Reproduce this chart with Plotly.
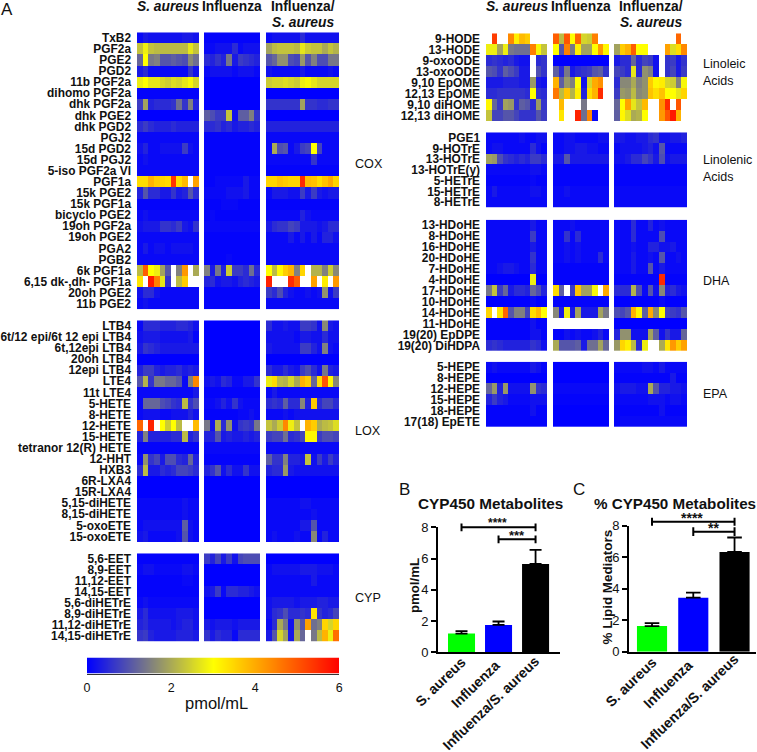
import plotly.graph_objects as go

W, H = 757, 752
N = None  # white cell, off the top of the scale

COX_LABELS = ["TxB2", "PGF2a", "PGE2", "PGD2", "11b PGF2a", "dihomo PGF2a", "dhk PGF2a", "dhk PGE2", "dhk PGD2",
              "PGJ2", "15d PGD2", "15d PGJ2", "5-iso PGF2a VI", "PGF1a", "15k PGE2", "15k PGF1a", "bicyclo PGE2",
              "19oh PGF2a", "19oh PGE2", "PGA2", "PGB2", "6k PGF1a", "6,15 dk-,dh- PGF1a", "20oh PGE2", "11b PGE2"]
LOX_LABELS = ["LTB4", "6t/12 epi/6t 12 epi LTB4", "6t,12epi LTB4", "20oh LTB4", "12epi LTB4", "LTE4", "11t LTE4",
              "5-HETE", "8-HETE", "12-HETE", "15-HETE", "tetranor 12(R) HETE", "12-HHT", "HXB3", "6R-LXA4",
              "15R-LXA4", "5,15-diHETE", "8,15-diHETE", "5-oxoETE", "15-oxoETE"]
CYP_LABELS = ["5,6-EET", "8,9-EET", "11,12-EET", "14,15-EET", "5,6-diHETrE", "8,9-diHETrE", "11,12-diHETrE",
              "14,15-diHETrE"]
LA_LABELS = ["9-HODE", "13-HODE", "9-oxoODE", "13-oxoODE", "9,10 EpOME", "12,13 EpOME", "9,10 diHOME", "12,13 diHOME"]
ALA_LABELS = ["PGE1", "9-HOTrE", "13-HOTrE", "13-HOTrE(y)", "5-HETrE", "15-HETrE", "8-HETrE"]
DHA_LABELS = ["13-HDoHE", "8-HDoHE", "16-HDoHE", "20-HDoHE", "7-HDoHE", "4-HDoHE", "17-HDoHE", "10-HDoHE", "14-HDoHE",
              "11-HDoHE", "19(20) EpDPE", "19(20) DiHDPA"]
EPA_LABELS = ["5-HEPE", "8-HEPE", "12-HEPE", "15-HEPE", "18-HEPE", "17(18) EpETE"]

COX_SA = [
    [.1, .3, .2, .2, .2, .2, .2, .2, .3, .3, .2],
    [2.3, 2.8, 2.3, 2.2, 2.2, 2.2, 2.2, 2.2, 2.2, 2.7, 2.3],
    [1.2, 3.0, 1.4, 1.5, 1.0, 1.0, 1.1, 1.0, .9, 1.6, 1.3],
    [.3, .5, .1, .1, .1, .1, .1, .1, .1, .6, .2],
    [2.8, 3.0, 2.7, 2.7, 2.5, 2.4, 2.6, 2.5, 2.7, 2.9, 2.5],
    [.05, .05, .05, .05, .05, .05, .05, .05, .05, .05, .05],
    [.7, 1.9, .4, .5, .5, .5, .6, 1.3, .6, 1.5, .4],
    [0, 0, 0, 0, 0, 0, 0, 0, 0, 0, 0],
    [.5, .7, .5, .4, .4, .4, .5, .4, .4, .4, .4],
    [.1, .1, .1, .1, .1, .1, .1, .1, .1, .1, .1],
    [.2, .4, .1, .1, .2, .2, .2, .2, .7, .2, .1],
    [.1, .2, .1, .1, .1, .1, .1, .1, .1, .1, .1],
    [.1, .1, .1, .1, .1, .1, .1, .1, .1, .1, .1],
    [3.4, 3.4, 3.9, 3.6, 3.5, 3.4, 5.4, 3.4, 3.8, N, 4.1],
    [.4, 1.0, .5, .5, .3, .3, .6, .3, .4, 1.0, .5],
    [.05, .05, .05, .05, .05, .05, .05, .05, .05, .05, .05],
    [.1, .2, .1, .1, .1, .1, .1, .1, .1, .1, .1],
    [.2, .3, .3, .3, .6, .6, .5, .7, .3, .2, .6],
    [.1, .1, .1, .1, .1, .1, .1, .1, .1, .1, .1],
    [.1, .3, .1, .2, .2, .1, .2, .2, .2, .2, .1],
    [.1, .1, .1, .1, .1, .1, .1, .1, .1, .1, .1],
    [2.2, 4.9, 3.0, 2.8, 1.9, 1.0, N, 1.5, 4.2, N, 2.0],
    [3.3, N, 5.7, 4.5, 2.7, .6, N, 2.2, 3.6, N, N],
    [.2, .5, .5, .2, .1, .1, .1, .1, .1, .1, .1],
    [.1, .2, .1, .1, .1, .1, .1, .1, .1, .1, .1],
]
COX_FLU = [
    [.05, .05, .05, .05, .05, .05, .05, .05, .05, .05],
    [.1, .1, .2, .2, .2, .5, .1, .2, .2, .2],
    [.5, .4, .6, .4, 1.4, .3, .7, .6, .5, .4],
    [.1, .2, .2, .2, .2, .1, .2, .2, .2, .1],
    [0, 0, 0, 0, 0, 0, 0, 0, 0, 0],
    [0, 0, 0, 0, 0, 0, 0, 0, 0, 0],
    [0, 0, 0, 0, 0, 0, 0, 0, 0, 0],
    [1.1, .9, .7, .7, 2.3, .2, 1.1, 1.1, 1.5, .6],
    [.5, .5, .6, .4, .5, .3, .4, .4, .5, .4],
    [.05, .05, .05, .05, .05, .05, .05, .05, .05, .05],
    [.05, .05, .05, .05, .05, .05, .05, .05, .05, .05],
    [.05, .05, .05, .05, .05, .05, .05, .05, .05, .05],
    [.05, .05, .05, .05, .05, .05, .05, .05, .05, .05],
    [.05, .05, .1, .1, .1, .1, .1, .3, .1, .1],
    [.1, .1, .1, .1, .2, .2, .2, .3, .1, .1],
    [.05, .05, .05, .1, .1, .1, .05, .05, .05, .05],
    [.05, .1, .05, .05, .05, .05, .05, .05, .05, .05],
    [.1, .1, .1, .1, .1, .1, .1, .1, .1, .1],
    [.05, .05, .05, .05, .05, .05, .05, .05, .05, .05],
    [.05, .05, .05, .05, .05, .05, .05, .05, .05, .05],
    [.05, .05, .05, .05, .1, .05, .05, .05, .05, .05],
    [1.5, .3, 1.4, .4, 2.4, .7, .7, .5, 1.3, .5],
    [.4, .5, .2, .3, .3, .2, .4, .5, .4, .3],
    [.05, .05, .05, .05, .05, .05, .05, .05, .05, .05],
    [.05, .05, .05, .05, .05, .05, .05, .05, .05, .05],
]
COX_CO = [
    [.1, .2, .2, .2, .2, .2, .5, .2, .2, .2, .2, .2, .2],
    [1.9, 2.2, 2.3, 2.3, 2.3, 2.2, 2.7, 2.4, 2.3, 2.3, 2.0, 2.3, 2.1],
    [1.0, 1.2, 1.7, 1.7, .9, .8, 1.8, 1.0, 1.5, .9, .9, 1.4, 1.4],
    [.2, .1, .1, .1, .1, .1, .3, .1, .1, .1, .1, .2, .1],
    [2.4, 2.5, 2.5, 2.6, 2.5, 2.4, 2.8, 2.9, 2.7, 2.5, 2.5, 2.5, 2.5],
    [0, 0, 0, 0, 0, 0, 0, 0, 0, 0, 0, 0, 0],
    [.6, .6, .6, .6, .6, .6, 1.9, .6, .6, .5, .5, .6, .6],
    [0, 0, 0, 0, 0, 0, 0, 0, 0, 0, 0, 0, 0],
    [.4, .4, .4, .4, .4, .4, .4, .4, .4, .4, .4, .4, .4],
    [.1, .1, .1, .1, .1, .1, .1, .1, .1, .1, .1, .1, .1],
    [.1, 2.0, .9, 1.0, .1, .3, .7, .8, 3.0, .8, .1, .1, .1],
    [.1, .1, .1, .1, .1, .1, .1, .1, .6, .1, .1, .1, .1],
    [.05, .05, .05, .05, .05, .05, .05, .05, .05, .05, .05, .05, .05],
    [3.5, 3.5, 3.7, 3.6, 3.5, 3.5, 5.5, 3.8, 3.7, 3.4, 3.7, 4.0, 3.5],
    [.1, .3, .3, .3, .2, .2, .7, .3, .7, .3, .2, .3, .3],
    [.05, .05, .05, .05, .05, .05, .05, .05, .05, .05, .05, .05, .05],
    [.1, .1, .1, .1, .1, .1, .4, .2, .1, .1, .1, .1, .1],
    [.3, .5, .6, .6, .8, .7, .3, .3, .3, .2, .3, .5, .5],
    [.1, .1, .1, .1, .3, .1, .3, .1, .3, .1, .4, .4, .2],
    [.1, .1, .1, .1, .1, .1, .1, .1, .1, .1, .1, .1, .1],
    [.1, .1, .1, .1, .1, .1, .1, .1, .1, .1, .1, .1, .1],
    [3.0, 2.2, 3.1, 3.6, 3.9, 1.5, 3.5, N, 2.1, 2.1, 1.5, 2.4, 1.6],
    [5.6, N, N, N, 5.5, 4.9, N, N, 4.1, N, 3.2, N, 4.2],
    [.7, .5, .9, .4, .2, .1, .1, .2, .1, .2, 1.7, .2, .7],
    [.1, .1, .1, .1, .1, .1, .1, .1, .1, .1, .1, .1, .1],
]
LOX_SA = [
    [.1, .5, .5, .5, .4, .4, .4, .5, .5, .4, .2],
    [.2, .3, .3, .3, .2, .2, .2, .2, .2, .3, .05],
    [.3, .6, .5, .4, .3, .3, .3, .3, .3, .3, .3],
    [0, 0, 0, 0, 0, 0, 0, 0, 0, 0, 0],
    [.4, .7, .7, .4, .3, .4, .4, .5, .3, .4, .3],
    [1.0, 2.1, .6, 1.4, 1.4, 1.2, 1.2, 1.0, .1, 1.5, 4.4],
    [.1, .1, .1, .1, .1, .1, .1, .1, .1, .1, .3],
    [.1, 1.2, 1.2, 1.2, .9, .8, .6, .5, 2.2, .6, .9],
    [.1, .2, .2, .2, .1, .1, .2, .2, .2, .4, .2],
    [4.8, N, 5.6, N, 3.0, 2.4, 3.0, 2.2, N, N, 3.8],
    [.4, 1.5, .4, .4, .4, .4, .5, .5, 2.2, .4, .6],
    [.05, .05, .05, .05, .05, .05, .05, .05, .05, .05, .05],
    [.1, 1.7, .6, .8, .3, .9, .9, .5, .4, 1.2, .4],
    [.5, 2.2, .3, .3, .5, .4, .5, .8, .8, .7, .5],
    [0, 0, 0, 0, 0, 0, 0, 0, 0, 0, 0],
    [0, 0, 0, 0, 0, 0, 0, 0, 0, 0, 0],
    [.1, .1, .1, .1, .1, .1, .1, .1, .2, .1, .1],
    [.1, .1, .1, .1, .1, .1, .1, .1, .2, .1, .1],
    [.1, .2, .2, .2, .2, .2, .2, .2, 1.1, .2, .1],
    [.2, .3, .1, .1, .1, .1, .1, .2, 1.0, .2, .1],
]
LOX_FLU = [
    [0, 0, 0, 0, 0, 0, 0, 0, 0, 0],
    [0, 0, 0, 0, 0, 0, 0, 0, 0, 0],
    [0, 0, 0, 0, 0, 0, 0, 0, 0, 0],
    [0, 0, 0, 0, 0, 0, 0, 0, 0, 0],
    [0, 0, 0, 0, 0, 0, 0, 0, 0, 0],
    [.2, .3, .2, .5, .4, .1, .1, .3, .3, .6],
    [.05, .05, .05, .05, .05, .05, .05, .05, .05, .05],
    [.1, .1, .2, .4, .2, .6, .2, .1, .1, .1],
    [.05, .05, .05, .05, .05, .05, .1, .1, .2, .1],
    [1.4, .2, 2.0, .5, 1.7, .2, .6, .7, .6, 1.4],
    [.4, .4, 1.0, .3, .4, .3, .3, .4, .3, .4],
    [.1, .1, .1, .1, .1, .1, .1, .1, .1, .1],
    [.05, .05, .05, .05, .05, .05, .05, .05, .05, .05],
    [.4, .6, 1.0, .2, .5, .2, .2, .6, .2, .2],
    [0, 0, 0, 0, 0, 0, 0, 0, 0, 0],
    [0, 0, 0, 0, 0, 0, 0, 0, 0, 0],
    [0, 0, 0, 0, 0, 0, 0, 0, 0, 0],
    [0, 0, 0, 0, 0, 0, 0, 0, 0, 0],
    [0, 0, 0, 0, 0, 0, 0, 0, 0, 0],
    [0, 0, 0, 0, 0, 0, 0, 0, 0, 0],
]
LOX_CO = [
    [.5, .2, .2, .3, .2, .2, .7, .7, .6, .2, 1.6, .3, .2],
    [.2, .2, .2, .2, .2, .1, .3, .3, .2, .2, .5, .2, .2],
    [.3, .2, .2, .2, .2, .2, .7, .7, .4, .2, 1.5, .2, .1],
    [0, 0, 0, 0, 0, 0, 0, 0, 0, 0, 0, 0, 0],
    [.5, .3, .3, .5, .3, .2, .7, .9, .5, .2, 1.4, .4, .3],
    [2.8, 3.4, 2.2, 2.1, 2.5, 2.0, 3.9, 3.6, 1.2, 3.4, 5.0, 3.1, 1.6],
    [.1, .3, .1, .1, .1, .1, .1, .1, .1, .1, .1, .1, .1],
    [.5, .6, .5, 1.1, .5, .5, 1.6, .4, 3.6, .5, .8, .8, .5],
    [.1, .1, .1, .2, .1, .2, .2, .2, .2, .2, .2, .2, .2],
    [2.3, 2.0, 2.4, 4.4, 2.8, 2.3, N, 3.9, 3.6, 2.0, 2.2, 2.3, 2.6],
    [.7, .8, .8, 1.3, .5, .6, .8, 3.1, 3.1, .7, .9, .9, .8],
    [.1, .1, .1, .1, .1, .1, .1, .1, .1, .1, .1, .1, .1],
    [1.1, .6, .6, 1.5, .4, .4, .3, 2.3, .2, .7, .3, .7, .4],
    [.4, .5, .5, 1.8, .3, .2, .2, .2, .2, .2, .2, .2, .2],
    [0, 0, 0, 0, 0, 0, 0, 0, 0, 0, 0, 0, 0],
    [0, 0, 0, 0, 0, 0, 0, 0, 0, 0, 0, 0, 0],
    [.1, .1, .1, .1, .1, .1, .2, .2, .1, .1, .1, .1, .1],
    [.1, .1, .1, .1, .1, .1, .1, .1, .2, .1, .1, .1, .1],
    [.1, .1, .1, .1, .1, .1, .3, .3, 1.0, .1, .1, .1, .1],
    [.1, .2, .1, .1, .1, .2, .1, .1, 1.6, .1, .4, .1, .1],
]
CYP_SA = [
    [.05, .05, .05, .05, .05, .05, .05, .05, .05, .05, .05],
    [.1, .2, .2, .1, .1, .1, .1, .1, .2, .2, .1],
    [.05, .05, .05, .05, .05, .05, .05, .05, .1, .1, .05],
    [.05, .05, .05, .05, .05, .05, .05, .05, .05, .05, .05],
    [.1, .2, .1, .1, .1, .1, .1, .1, .1, .1, .1],
    [.3, .5, .2, .2, .2, .2, .2, .3, .3, .3, .2],
    [.4, .5, .3, .3, .3, .3, .2, .3, .4, .4, .2],
    [.6, .7, .4, .3, .3, .3, .3, .4, .4, .4, .3],
]
CYP_FLU = [
    [.7, .4, .8, .3, .7, .2, .8, .9, .9, .9],
    [0, 0, 0, 0, 0, 0, 0, 0, 0, 0],
    [0, 0, 0, 0, 0, 0, 0, 0, 0, 0],
    [.2, .3, .7, .1, .5, .5, .4, .4, .3, .2],
    [0, 0, 0, 0, 0, 0, 0, 0, 0, 0],
    [0, 0, 0, 0, 0, 0, 0, 0, 0, 0],
    [.3, .2, .3, .3, .3, .2, .3, .3, .3, .3],
    [.6, .3, .5, .4, .4, .1, .5, .5, .5, .5],
]
CYP_CO = [
    [0, 0, 0, 0, 0, 0, 0, 0, 0, 0, 0, 0, 0],
    [.1, .2, .2, .2, .2, .2, .3, .3, .3, .2, .2, .2, .1],
    [.1, .1, .1, .1, .1, .1, .1, .1, .3, .1, .1, .1, .1],
    [.1, .1, .1, .1, .1, .1, .1, .1, .1, .1, .1, .1, .1],
    [.2, .3, .3, .3, .3, .2, .3, .3, .3, .4, .4, .3, .3],
    [.2, .5, .6, .9, .5, .5, .6, .5, 3.3, .6, .4, .5, .8],
    [.1, .5, 2.0, 1.4, .2, 1.7, 1.0, 4.1, 1.3, 1.5, 3.5, 2.5, 3.5],
    [.3, 1.0, 2.5, 1.9, .3, 2.0, 1.2, N, 1.4, 2.2, 3.9, 2.8, 4.7],
]
LA_SA = [
    [N, 5.3, N, N, 4.4, 3.2, 3.8, 3.6, N, N, N],
    [2.8, 2.8, 1.9, 2.8, 1.4, 1.3, 1.3, 1.3, 4.5, 2.9, 2.3],
    [.5, .6, .5, .4, .5, .3, .2, .2, N, .5, .6],
    [1.0, .9, .6, 1.1, .9, .7, .3, .3, N, .9, .6],
    [.3, .3, .3, .4, .4, .4, .3, .3, 1.8, .3, .2],
    [.5, .5, .6, .6, .6, .6, .6, .5, 3.0, .6, .5],
    [3.1, 1.2, .7, 1.9, 1.8, .6, 1.1, 1.0, .5, 1.8, .6],
    [2.3, .8, .8, 1.0, 1.0, .8, .6, .6, .6, 1.0, .7],
]
LA_FLU = [
    [4.9, 2.2, 5.0, 3.0, 4.8, 2.5, 2.4, 4.5, N, N],
    [3.0, 1.0, 4.5, 1.4, 3.2, 1.9, 1.9, 3.0, 4.2, 3.1],
    [0, 0, 0, 0, 0, 0, 0, 0, 0, 0],
    [1.1, .5, 1.4, .3, .5, .6, .7, 1.0, 1.1, .6],
    [3.9, 1.1, 1.8, 1.5, 3.0, .2, 2.5, 4.0, 4.3, N],
    [4.6, 2.2, 3.7, 2.1, 3.2, .4, 3.4, 3.9, 5.5, N],
    [N, 3.8, N, N, N, 1.4, N, N, N, N],
    [N, 3.3, N, N, 5.6, 1.3, 4.4, .1, N, N],
]
LA_CO = [
    [N, N, N, N, N, N, N, N, N, N, N, 4.8, N],
    [1.9, 3.6, 3.9, 4.9, 3.0, 3.0, N, N, N, 4.1, 2.6, 3.4, 4.4],
    [.3, .5, .5, 1.2, .5, .8, .7, .2, N, .6, .7, .3, .6],
    [.8, .7, .5, 2.7, .5, 1.7, 1.5, .2, N, .6, .8, .3, .7],
    [.5, 1.6, 1.6, 2.0, 1.5, 1.7, 3.6, 3.1, 3.2, 2.5, 2.4, 1.5, 2.9],
    [.7, 1.8, 1.7, 2.2, 1.6, 1.7, 3.7, 3.4, 3.7, 3.0, 3.0, 2.7, 3.5],
    [1.2, 3.0, 4.1, 2.7, 2.3, 3.8, N, N, 4.3, 5.5, N, 5.0, N],
    [1.1, 3.1, 2.6, 2.0, 2.1, 3.0, N, N, 4.2, 5.0, 5.7, 3.9, N],
]
ALA_SA = [
    [.1, .1, .1, .1, .1, .1, .2, .1, .1, .2, .2],
    [.1, .2, .2, .1, .1, .1, .1, .1, .5, .2, .05],
    [1.9, 1.8, .9, .6, .5, .4, .5, .4, .7, .7, .5],
    [.1, .1, .1, .1, .1, .1, .1, .1, .2, .2, .1],
    [.05, .05, .05, .05, .05, .05, .05, .05, .1, .05, .05],
    [.1, .3, .1, .1, .1, .1, .1, .1, .2, .2, .1],
    [.1, .1, .1, .1, .1, .1, .1, .1, .1, .1, .1],
]
ALA_FLU = [
    [.1, .1, .2, .2, .1, .1, .1, .1, .2, .2],
    [.1, .1, .2, .2, .3, .3, .2, .2, .1, .1],
    [.3, .3, 1.0, .3, .3, .3, .3, .3, .3, .3],
    [.05, .05, .05, .05, .05, .05, .05, .05, .05, .05],
    [.05, .05, .05, .05, .05, .05, .05, .05, .05, .05],
    [.1, .1, .2, .1, .1, .1, .1, .1, .1, .1],
    [.1, .1, .1, .1, .1, .1, .1, .1, .1, .1],
]
ALA_CO = [
    [.3, .3, .2, .2, .3, .3, .5, .6, .2, .2, .3, .3, .4],
    [.1, .2, .2, .2, .2, .3, .4, .2, 1.0, .1, .1, .1, .1],
    [.2, .2, .3, .5, .5, .8, .6, .3, .9, .2, .3, .3, .3],
    [.05, .05, .05, .05, .05, .05, .05, .05, .05, .05, .05, .05, .05],
    [.05, .05, .05, .05, .05, .05, .05, .05, .05, .05, .05, .05, .05],
    [.1, .1, .1, .1, .1, .1, .1, .1, .1, .1, .1, .1, .1],
    [.1, .1, .1, .1, .1, .1, .1, .1, .1, .1, .1, .1, .1],
]
DHA_SA = [
    [.1, .1, .1, .1, .1, .1, .1, .1, .3, .1, .1],
    [.1, .1, .1, .1, .1, .1, .1, .1, .7, .1, .1],
    [.1, .1, .1, .1, .1, .1, .1, .1, .3, .1, .1],
    [.1, .1, .1, .1, .1, .1, .1, .1, .6, .1, .1],
    [.1, .1, .2, .3, .3, .2, .1, .1, .5, .1, .1],
    [0, 0, 0, 0, 0, 0, 0, 0, 2.8, 0, 0],
    [1.4, 2.3, .7, 1.2, .3, .5, .5, .4, 1.2, .9, .4],
    [0, 0, 0, 0, 0, 0, 0, 0, .1, 0, 0],
    [3.5, N, 3.3, 4.8, 1.0, 1.5, 1.5, .8, 3.4, 3.8, 3.0],
    [.05, .05, .05, .05, .05, .05, .05, .05, .2, .05, .05],
    [.05, .05, .05, .05, .05, .05, .05, .05, .2, .2, .05],
    [.5, .6, .5, .4, .4, .4, .4, .4, .6, .5, .2],
]
DHA_FLU = [
    [.1, .1, .1, .2, .1, .1, .1, .1, .1, .1],
    [.1, .1, .6, .1, .5, .1, .1, .1, .1, .1],
    [.1, .1, .2, .1, .2, .1, .1, .1, .1, .1],
    [.1, .1, .2, .1, .2, .1, .1, .1, .5, .1],
    [.05, .05, .05, .05, .05, .05, .05, .05, .05, .05],
    [.05, .05, .05, .05, .05, .05, .05, .05, .05, .05],
    [3.4, 1.1, N, .7, 3.7, 1.9, 1.9, 2.9, N, 4.0],
    [.05, .05, .05, .05, .05, .05, .05, .05, .05, .05],
    [1.6, .3, 2.8, .3, 1.9, .3, .3, .3, 1.9, 1.4],
    [N, N, N, N, N, N, N, N, N, N],
    [.05, .05, .2, .1, .2, .1, .1, .2, .4, .1],
    [2.0, 1.0, 1.0, 1.0, 1.1, .3, 1.3, 1.3, 1.9, 1.2],
]
DHA_CO = [
    [.1, .1, .1, .5, .1, .1, .4, .1, .2, .1, .1, .1, .1],
    [.1, .1, .1, .5, .1, .1, .1, .1, .9, .1, .1, .1, .1],
    [.1, .1, .1, .2, .1, .1, .4, .4, .2, .2, .3, .1, .1],
    [.1, .1, .1, .3, .1, .1, .2, .1, 1.0, .1, .1, .2, .1],
    [.1, .1, .1, .3, .1, .1, 1.0, .1, .3, .1, .1, .1, .1],
    [.05, .05, .05, .05, .05, .05, .05, .05, 5.5, .05, .05, .05, .05],
    [.5, .5, .5, 2.1, .9, .1, 1.0, .2, 1.6, .4, .5, .3, .2],
    [0, 0, 0, 0, 0, 0, 0, 0, .1, 0, 0, 0, 0],
    [.9, .8, 1.0, 3.9, 3.1, 1.1, 4.0, 1.6, 3.0, .8, .7, .6, 1.0],
    [0, 0, 0, 0, 0, 0, 0, 0, 0, 0, 0, 0, 0],
    [.4, 1.7, 1.7, .2, .2, .2, 1.9, 1.1, .2, .6, .3, .3, 1.2],
    [1.8, 3.5, 3.2, 2.2, .5, 2.8, N, N, 2.0, 3.3, 4.2, 3.6, 4.1],
]
EPA_SA = [
    [.1, .2, .1, .1, .1, .1, .1, .1, .3, .2, .05],
    [0, 0, 0, 0, 0, 0, 0, 0, 0, 0, 0],
    [1.2, 1.8, .4, 1.8, .2, .2, .2, .2, 1.7, .6, .5],
    [.4, .7, .4, .3, .1, .1, .1, .1, .2, .2, .2],
    [.05, .05, .05, .05, .05, .05, .05, .05, .2, .05, .05],
    [.05, .05, .05, .05, .05, .05, .05, .05, .05, .05, .05],
]
EPA_FLU = [
    [0, 0, 0, 0, 0, 0, 0, 0, 0, 0],
    [0, 0, 0, 0, 0, 0, 0, 0, 0, 0],
    [.1, .1, .1, .1, .1, .1, .1, .1, .1, .1],
    [.05, .05, .05, .05, .05, .05, .05, .05, .05, .05],
    [0, 0, 0, 0, 0, 0, 0, 0, 0, 0],
    [0, 0, 0, 0, 0, 0, 0, 0, 0, 0],
]
EPA_CO = [
    [.1, .1, .1, .1, .1, .2, .2, .1, .3, .1, .1, .1, .1],
    [.05, .05, .05, .05, .05, .05, .05, .05, .05, .05, .3, .05, .05],
    [.2, .3, .3, .3, .2, .2, 2.0, 1.0, .4, .4, .3, .3, .2],
    [.1, .1, .1, .1, .1, .1, .2, .2, .2, .1, .2, .2, .1],
    [.05, .05, .05, .05, .05, .05, .05, .05, .2, .05, .05, .05, .05],
    [.05, .1, .1, .1, .1, .1, .1, .1, .1, .1, .1, .1, .1],
]

GROUPS = ["S. aureus", "Influenza", "Influenza/S. aureus"]
BAR_COLORS = ["#00ff00", "#0000ff", "#000000"]
PMOL = [1.2, 1.75, 5.65]
PMOL_ERR = [.15, .22, .9]
PCT = [1.63, 3.43, 6.33]
PCT_ERR = [.19, .32, .92]
B_BRACKET_1 = ([0, 0, 0, 2, 2, 2], [7.75, 8.25, 8, 8, 8.25, 7.75])
B_BRACKET_2 = ([1, 1, 1, 2, 2, 2], [6.98, 7.48, 7.23, 7.23, 7.48, 6.98])
C_BRACKET_1 = ([0, 0, 0, 2, 2, 2], [8.0, 8.5, 8.25, 8.25, 8.5, 8.0])
C_BRACKET_2 = ([1, 1, 1, 2, 2, 2], [7.34, 7.9, 7.62, 7.62, 7.9, 7.34])
SCALE_Z = [[0, 3, 6]]
SCALE_X = [0, 3, 6]
SCALE_TICKS = [0, 2, 4, 6]

FONT = "Liberation Sans, Arial, sans-serif"
TXT = "#111111"


def xdom(a, b):
    return [a / W, b / W]


def ydom(top, bottom):
    return [1 - bottom / H, 1 - top / H]


LEFT_COLS = [(137, 199), (204, 260), (266, 339)]
RIGHT_COLS = [(486, 547), (553, 609), (614, 687)]
blocks = [
    (COX_LABELS, [COX_SA, COX_FLU, COX_CO], LEFT_COLS, 32.3, 309.3),
    (LOX_LABELS, [LOX_SA, LOX_FLU, LOX_CO], LEFT_COLS, 320.3, 542),
    (CYP_LABELS, [CYP_SA, CYP_FLU, CYP_CO], LEFT_COLS, 553.3, 641.7),
    (LA_LABELS, [LA_SA, LA_FLU, LA_CO], RIGHT_COLS, 33.3, 121),
    (ALA_LABELS, [ALA_SA, ALA_FLU, ALA_CO], RIGHT_COLS, 132.3, 207.7),
    (DHA_LABELS, [DHA_SA, DHA_FLU, DHA_CO], RIGHT_COLS, 219.7, 351),
    (EPA_LABELS, [EPA_SA, EPA_FLU, EPA_CO], RIGHT_COLS, 361.7, 427),
]

fig = go.Figure()
layout = {}
ax = 0
for labels, panels, cols, top, bottom in blocks:
    for j, rows in enumerate(panels):
        ax += 1
        assert len(rows) == len(labels), labels[0]
        fig.add_trace(go.Heatmap(z=rows, y=labels, x=list(range(len(rows[0]))), coloraxis="coloraxis",
                                 xaxis=f"x{ax}", yaxis=f"y{ax}", hoverongaps=False))
        layout[f"xaxis{ax}"] = dict(domain=xdom(*cols[j]), anchor=f"y{ax}", visible=False)
        layout[f"yaxis{ax}"] = dict(domain=ydom(top, bottom), anchor=f"x{ax}", autorange="reversed", type="category",
                                    showgrid=False, zeroline=False, ticks="", showline=False,
                                    showticklabels=j == 0, ticklabelstandoff=5,
                                    tickfont=dict(family=FONT, size=11.9, color=TXT, weight="bold"),
                                    tickmode="linear", dtick=1)


def bar_panel(n, values, errors, x_dom, x_range, y_top, y_bottom, cap):
    fig.add_trace(go.Bar(x=[0, 1, 2], y=values, marker=dict(color=BAR_COLORS, line_width=0), width=.73,
                         error_y=dict(type="data", symmetric=False, array=errors, arrayminus=[0, 0, 0],
                                      color="black", thickness=1.8, width=cap),
                         xaxis=f"x{n}", yaxis=f"y{n}", showlegend=False))
    layout[f"xaxis{n}"] = dict(domain=xdom(*x_dom), anchor=f"y{n}", range=x_range, tickmode="array",
                               tickvals=[0, 1, 2], showticklabels=False, ticks="", showline=True,
                               linecolor="black", linewidth=2, showgrid=False, zeroline=False)
    layout[f"yaxis{n}"] = dict(domain=ydom(y_top, y_bottom), anchor=f"x{n}", range=[0, 8], tickvals=[0, 2, 4, 6, 8],
                               ticks="outside", ticklen=5, tickwidth=2, tickcolor="black", showline=True,
                               linecolor="black", linewidth=2, showgrid=False, zeroline=False,
                               tickfont=dict(family=FONT, size=13, color=TXT))
    # hidden twin axes run on past 8 so the brackets above the axis top are kept
    layout[f"xaxis{n + 2}"] = dict(domain=xdom(*x_dom), anchor=f"y{n + 2}", range=x_range, visible=False)
    layout[f"yaxis{n + 2}"] = dict(domain=ydom(y_bottom - (y_bottom - y_top) * 9 / 8, y_bottom), anchor=f"x{n + 2}",
                                   range=[0, 9], visible=False)


bar_panel(22, PMOL, PMOL_ERR, (438, 560), [-.635, 2.66], 527.3, 652.3, 6)
bar_panel(23, PCT, PCT_ERR, (629, 756), [-.558, 2.52], 525.7, 651.7, 7.3)

for n, br in [(24, B_BRACKET_1), (24, B_BRACKET_2), (25, C_BRACKET_1), (25, C_BRACKET_2)]:
    fig.add_trace(go.Scatter(x=br[0], y=br[1], mode="lines", line=dict(color="black", width=2), cliponaxis=False,
                             xaxis=f"x{n}", yaxis=f"y{n}", showlegend=False))

# colour scale strip, interpolated by the heatmap between its three stops
fig.add_trace(go.Heatmap(z=SCALE_Z, x=SCALE_X, y=[0], coloraxis="coloraxis", zsmooth="best",
                         xaxis="x26", yaxis="y26"))
layout["xaxis26"] = dict(domain=xdom(87, 339.3), anchor="y26", range=[0, 6], tickvals=SCALE_TICKS, ticks="",
                         showgrid=False, zeroline=False, showline=True, linecolor="#333333", linewidth=1,
                         ticklabelstandoff=2, tickfont=dict(family=FONT, size=12.5, color=TXT))
layout["yaxis26"] = dict(domain=ydom(657.5, 673.5), anchor="x26", visible=False)


def note(text, px, py, size=13, anchor="center", angle=0, bold=False):
    t = f"<b>{text}</b>" if bold else text
    fig.add_annotation(text=t, x=px / W, y=1 - py / H, xref="paper", yref="paper", showarrow=False,
                       xanchor=anchor, yanchor="middle", textangle=angle,
                       font=dict(family=FONT, size=size, color=TXT))


# column headers
for cols in (LEFT_COLS, RIGHT_COLS):
    c = [(a + b) / 2 for a, b in cols]
    note("<i>S. aureus</i>", c[0], 7, 13.8, bold=True)
    note("Influenza", c[1], 7, 13.8, bold=True)
    note("Influenza/", c[2], 7, 13.8, bold=True)
    note("<i>S. aureus</i>", c[2], 22.5, 13.8, bold=True)

note("COX", 353, 164, 12.6, "left")
note("LOX", 353, 431.5, 12.6, "left")
note("CYP", 353, 598, 12.6, "left")
note("Linoleic", 701, 64, 12.5, "left")
note("Acids", 701, 81, 12.5, "left")
note("Linolenic", 701, 160.5, 12.5, "left")
note("Acids", 701, 176.5, 12.5, "left")
note("DHA", 701, 281, 12.5, "left")
note("EPA", 701, 394, 12.5, "left")
note("pmol/mL", 217, 702.5, 16.5)

note("A", 7, 9, 17)
note("B", 404, 490, 17)
note("C", 579, 489, 17)
note("CYP450 Metabolites", 490.5, 503, 15.3, bold=True)
note("% CYP450 Metabolites", 675, 503, 15.2, bold=True)
note("pmol/mL", 414, 586, 13.2, angle=-90, bold=True)
note("% Lipid Mediators", 607, 587.5, 13.4, angle=-90, bold=True)

# slanted group names under the bars, set by hand to sit where the reference has them
for name, px, py, size in [(GROUPS[0], 440, 682, 14), (GROUPS[1], 475.5, 684, 14), (GROUPS[2], 491, 703, 14),
                           (GROUPS[0], 631, 682, 14.2), (GROUPS[1], 668, 684, 14.2), (GROUPS[2], 689, 702, 14.2)]:
    note(name, px, py, size, angle=-44, bold=True)

for n, x, y, s, size in [(24, 0.98, 8, "****", 12), (24, 1.5, 7.23, "***", 13),
                         (25, .96, 8.25, "****", 14), (25, 1.5, 7.62, "**", 14)]:
    fig.add_annotation(text=f"<b>{s}</b>", x=x, y=y, xref=f"x{n}", yref=f"y{n}", showarrow=False, yshift=4,
                       font=dict(family=FONT, size=size, color=TXT))

fig.update_layout(
    template="none", width=W, height=H, margin=dict(l=0, r=0, t=0, b=0),
    paper_bgcolor="white", plot_bgcolor="rgba(0,0,0,0)",
    showlegend=False, bargap=.27,
    coloraxis=dict(cmin=0, cmax=6, showscale=False, colorscale=[[0, "#0000ff"], [.5, "#ffff00"], [1, "#ff0000"]]),
    **layout,
)

fig.write_html("out.html", config={"displayModeBar": False}, post_script="document.body.style.margin='0'")
